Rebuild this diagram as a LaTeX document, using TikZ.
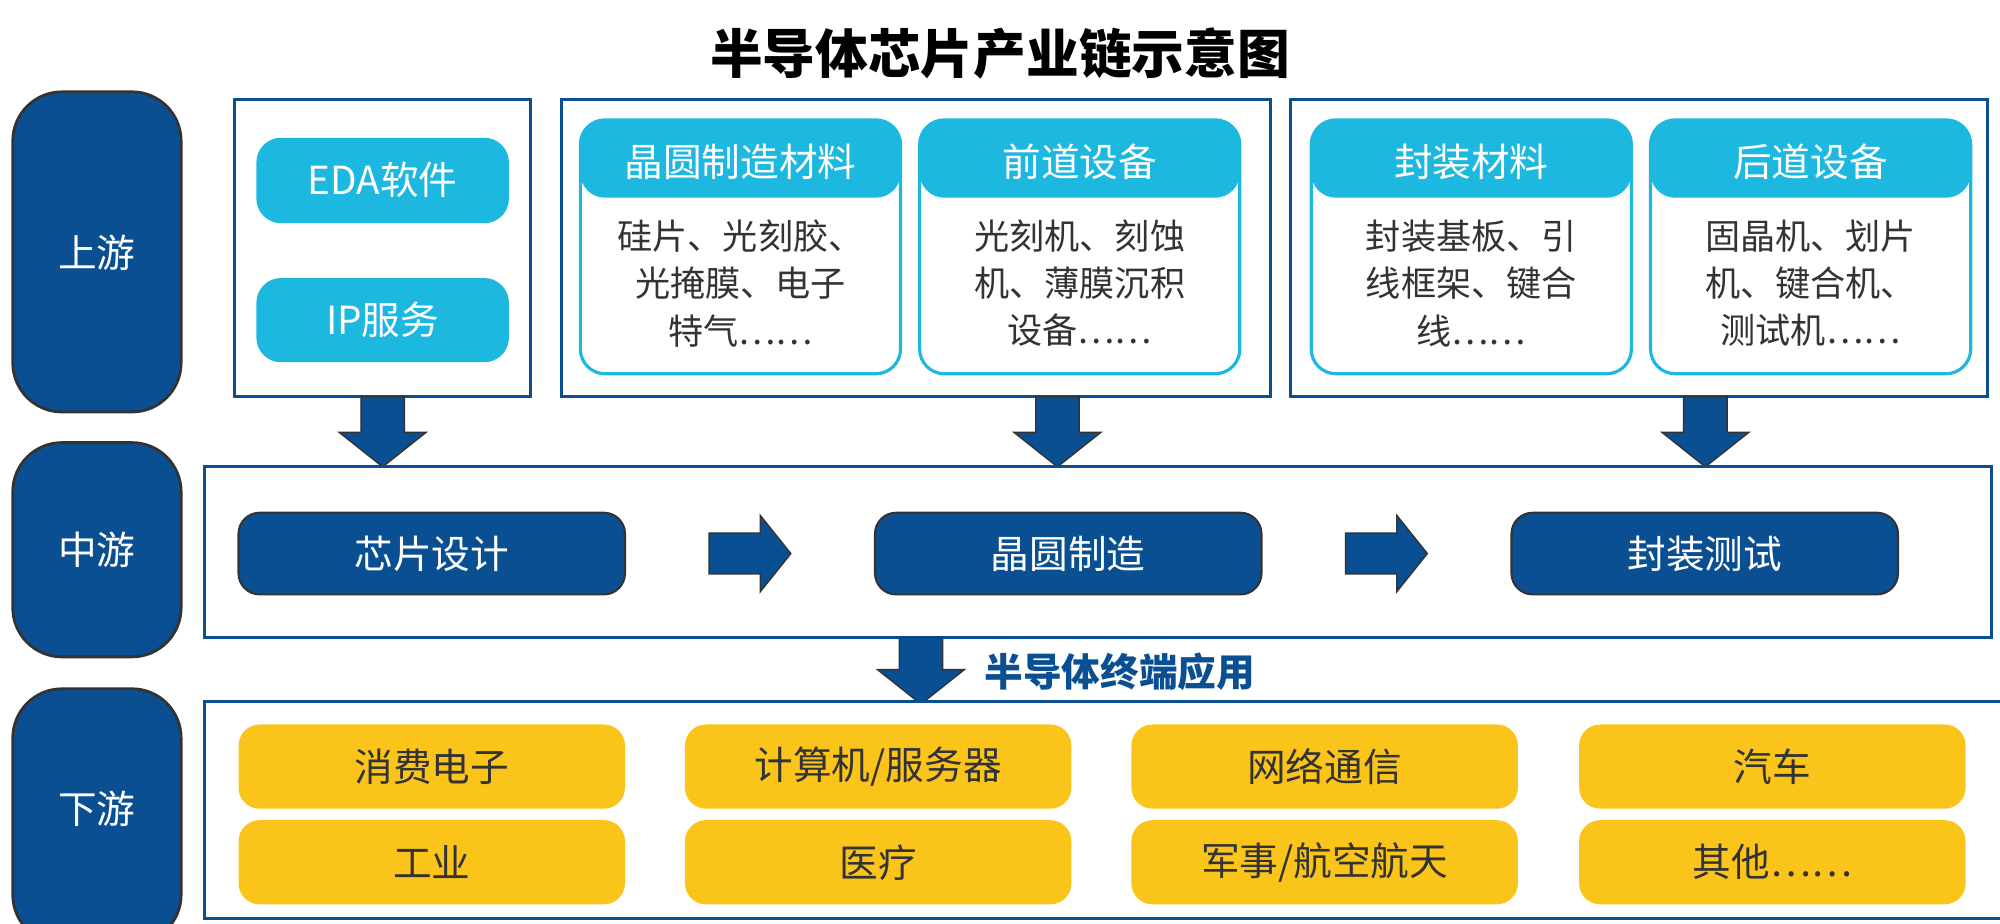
\documentclass[tikz,border=0pt]{standalone}
\usepackage{fontspec}
\setmainfont{Noto Sans CJK SC}
\definecolor{dblue}{HTML}{0B4F93}
\definecolor{lblue}{HTML}{1DB8E0}
\definecolor{yel}{HTML}{FAC41B}
\definecolor{txt}{HTML}{333333}
\begin{document}
\begin{tikzpicture}[x=0.012755cm,y=-0.012755cm,
 side/.style={draw=txt,line width=0.8pt,fill=dblue,rounded corners=14pt},
 wt/.style={text=white,font=\fontsize{11}{13}\selectfont},
 frame/.style={draw=dblue,line width=0.9pt,fill=white},
 lb/.style={fill=lblue,rounded corners=7pt},
 card/.style={draw=lblue,line width=0.9pt,fill=white,rounded corners=7pt},
 body/.style={text=txt,font=\fontsize{10}{13.5}\selectfont,align=center},
 mid/.style={draw=txt,line width=0.6pt,fill=dblue,rounded corners=6pt},
 yb/.style={fill=yel,rounded corners=6pt},
 yt/.style={text=txt,font=\fontsize{11}{13}\selectfont},
 arr/.style={draw=txt,line width=0.4pt,fill=dblue}]
\useasboundingbox (0,0) rectangle (1568,724);
\node[font=\bfseries\fontsize{15}{17}\selectfont] (title) at (784,42) {半导体芯片产业链示意图};
% side labels
\path[side] (10,72) rectangle (142,323); \node[wt] (s1) at (76,198) {上游};
\path[side] (10,347) rectangle (142,515); \node[wt] (s2) at (76,431) {中游};
\path[side] (10,540) rectangle (142,740); \node[wt] (s3) at (76,634) {下游};
% upstream frames
\draw[frame] (184,78) rectangle (416,311);
\draw[frame] (440,78) rectangle (996,311);
\draw[frame] (1012,78) rectangle (1558,311);
\path[lb] (201,108) rectangle (399,175); \node[wt] (eda) at (300,141) {EDA软件};
\path[lb] (201,218) rectangle (399,284); \node[wt] (ip) at (300,251) {IP服务};
\foreach \x/\h/\b [count=\i] in {455/晶圆制造材料/{硅片、光刻胶、\\光掩膜、电子\\特气……},721/前道设备/{光刻机、刻蚀\\机、薄膜沉积\\设备……},1028/封装材料/{封装基板、引\\线框架、键合\\线……},1294/后道设备/{固晶机、划片\\机、键合机、\\测试机……}}{
  \draw[card] (\x,94) rectangle ++(251,199);
  \path[fill=lblue,rounded corners=7pt] (\x,94) rectangle ++(251,61);
  \node[wt] (h\i) at (\x+125.5,127) {\h};
  \node[body] (b\i) at (\x+125.5,222) {\b};
}
% down arrows
\foreach \cx/\t/\b in {300/311/366,829/311/366,1337/311/366,722/500/552}{
  \draw[arr] (\cx-17,\t) -- (\cx+17,\t) -- (\cx+17,\b-27) -- (\cx+34,\b-27) -- (\cx,\b) -- (\cx-34,\b-27) -- (\cx-17,\b-27) -- cycle;
}
% middle
\draw[frame] (160,366) rectangle (1561,500);
\foreach \x/\t [count=\i] in {187/芯片设计,686/晶圆制造,1185/封装测试}{
  \draw[mid] (\x,402) rectangle ++(303,64);
  \node[wt] (m\i) at (\x+151.5,434) {\t};
}
\foreach \x in {556,1055}{
  \draw[arr] (\x,418) -- (\x+40,418) -- (\x+40,404) -- (\x+64,434) -- (\x+40,464) -- (\x+40,450) -- (\x,450) -- cycle;
}
\draw[arr] (722-17,500) -- (722+17,500);
\node[anchor=west,text=dblue,font=\bfseries\fontsize{11}{13}\selectfont] (app) at (762,527) {半导体终端应用};
% downstream
\draw[frame] (160,550) rectangle (1580,720);
\foreach \x/\a/\c [count=\i] in {187/消费电子/工业,537/{计算机/服务器}/医疗,887/网络通信/{军事/航空航天},1238/汽车/其他……}{
  \path[yb] (\x,568) rectangle ++(303,66);
  \node[yt] (y\i a) at (\x+151.5,601) {\a};
  \path[yb] (\x,643) rectangle ++(303,66);
  \node[yt] (y\i b) at (\x+151.5,676) {\c};
}
\end{tikzpicture}
\end{document}
